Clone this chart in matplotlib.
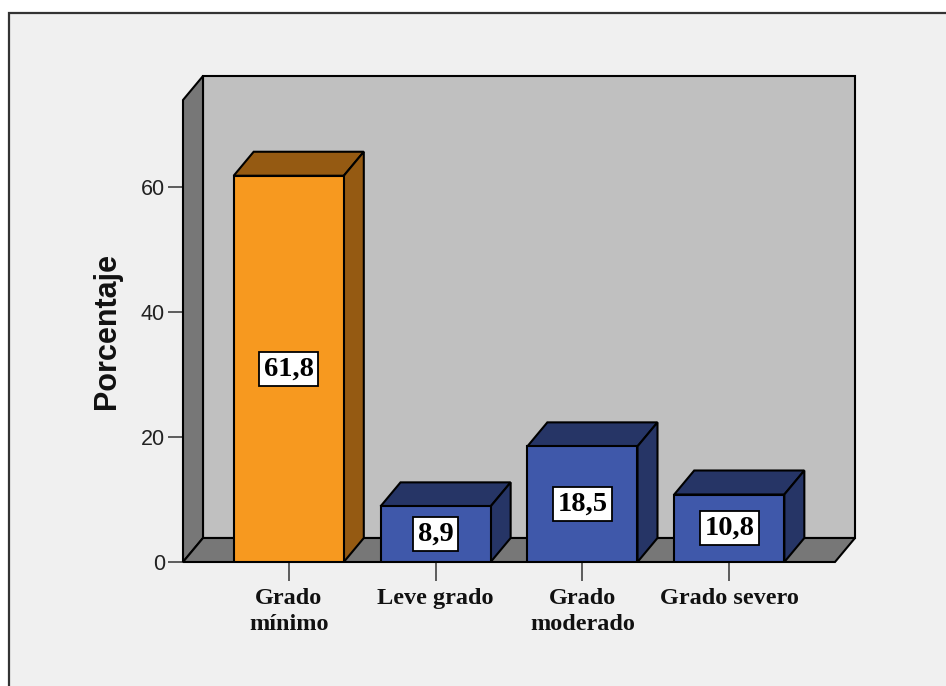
import matplotlib
matplotlib.use("Agg")
import matplotlib.pyplot as plt
from matplotlib.patches import Polygon, Rectangle

categorias = ["Grado\nmínimo", "Leve grado", "Grado\nmoderado", "Grado severo"]
porcentajes = [61.8, 8.9, 18.5, 10.8]
etiquetas = ["61,8", "8,9", "18,5", "10,8"]
y_ticks = [0, 20, 40, 60]

color_frente = ["#F7991F", "#3F58AA", "#3F58AA", "#3F58AA"]
color_lado = ["#955A12", "#263566", "#263566", "#263566"]

W, H, DPI = 946, 686, 100
fig = plt.figure(figsize=(W / DPI, H / DPI), dpi=DPI, facecolor="white")

# marco gris claro del gráfico
fig.add_artist(Rectangle((9 / W, -0.05), 1.2, (H - 13) / H + 0.05,
                         transform=fig.transFigure, facecolor="#F0F0F0",
                         edgecolor="#333333", linewidth=1.6, zorder=-10))

ax = fig.add_axes([183 / W, 124 / H, 652 / W, 462 / H])
ax.set_facecolor("none")
for s in ax.spines.values():
    s.set_visible(False)

x0, x1 = -0.72, 3.72
ymax = 462 / 6.25
ax.set_xlim(x0, x1)
ax.set_ylim(0, ymax)

# profundidad 3D en unidades de datos (20 px a la derecha, 24 px arriba)
dx = 20 / (652 / (x1 - x0))
dy = 24 / 6.25

borde = dict(edgecolor="black", linewidth=1.5, clip_on=False)

# pared de fondo, pared lateral y suelo
ax.add_patch(Polygon([(x0 + dx, dy), (x1 + dx, dy), (x1 + dx, ymax + dy), (x0 + dx, ymax + dy)],
                     facecolor="#C0C0C0", zorder=1, **borde))
ax.add_patch(Polygon([(x0, 0), (x0, ymax), (x0 + dx, ymax + dy), (x0 + dx, dy)],
                     facecolor="#777777", zorder=2, **borde))
ax.add_patch(Polygon([(x0, 0), (x1, 0), (x1 + dx, dy), (x0 + dx, dy)],
                     facecolor="#777777", zorder=2, **borde))

ancho = 0.75
xs = list(range(len(porcentajes)))
for i, v in enumerate(porcentajes):
    a, b = i - ancho / 2, i + ancho / 2
    ax.add_patch(Polygon([(a, v), (b, v), (b + dx, v + dy), (a + dx, v + dy)],
                         facecolor=color_lado[i], zorder=3, **borde))
    ax.add_patch(Polygon([(b, 0), (b, v), (b + dx, v + dy), (b + dx, dy)],
                         facecolor=color_lado[i], zorder=3, **borde))
ax.bar(xs, porcentajes, width=ancho, color=color_frente, edgecolor="black",
       linewidth=1.5, zorder=4)

for i, v in enumerate(porcentajes):
    ax.text(i, v / 2, etiquetas[i], ha="center", va="center", zorder=6,
            family="Liberation Serif", fontweight="bold", fontsize=20.5,
            bbox=dict(boxstyle="square,pad=0.15", facecolor="white",
                      edgecolor="black", linewidth=1.3))

ax.set_yticks(y_ticks)
ax.set_yticklabels([str(t) for t in y_ticks], family="Liberation Sans",
                   fontsize=15.5, color="#222222")
ax.set_xticks(xs)
ax.set_xticklabels(categorias, family="Liberation Serif", fontweight="bold",
                   fontsize=17.5, color="#111111", linespacing=1.35)
ax.tick_params(axis="y", direction="out", length=11, width=1.1, pad=2,
               color="#333333")
ax.tick_params(axis="x", direction="out", length=13.5, width=1.1, pad=5,
               color="#333333")

ax.set_ylabel("Porcentaje", family="Liberation Sans", fontweight="bold",
              fontsize=22, color="#111111")
ax.yaxis.set_label_coords(-0.093, 0.5)

fig.savefig("out.png", dpi=DPI, facecolor="white")
